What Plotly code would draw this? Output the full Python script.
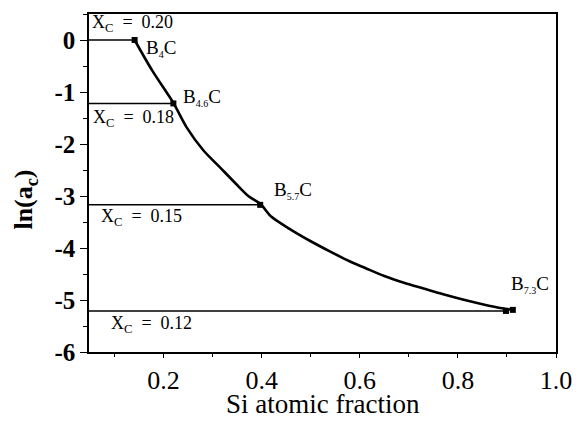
import plotly.graph_objects as go

# Carbon activity along the B-C phase boundary versus Si atomic fraction
si_frac = [0.141, 0.177, 0.220, 0.247, 0.281, 0.314, 0.347, 0.374, 0.397,
           0.420, 0.460, 0.500, 0.540, 0.580, 0.610, 0.650, 0.690, 0.730,
           0.770, 0.810, 0.850, 0.890, 0.912]
ln_ac = [0.00, -0.59, -1.21, -1.68, -2.12, -2.44, -2.76, -3.01, -3.15,
         -3.40, -3.65, -3.87, -4.07, -4.26, -4.38, -4.54, -4.67, -4.78,
         -4.89, -4.99, -5.08, -5.16, -5.19]

# Boron carbide compositions marked on the curve
phase_labels = ['B<sub><span style="font-size:10px">4</span></sub>C',
                'B<sub><span style="font-size:10px">4.6</span></sub>C',
                'B<sub><span style="font-size:10px">5.7</span></sub>C',
                'B<sub><span style="font-size:10px">7.3</span></sub>C']
phase_x = [0.141, 0.220, 0.397, 0.898]
phase_y = [0.00, -1.22, -3.17, -5.21]

# Carbon mole fraction for each iso-composition line
xc_values = ["0.20", "0.18", "0.15", "0.12"]

x_min, x_max = 0.048, 1.0
y_min, y_max = -6.0, 0.5

x_ticks = [0.2, 0.4, 0.6, 0.8, 1.0]
x_ticktext = ["0.2", "0.4", "0.6", "0.8", "1.0"]
y_ticks = [0, -1, -2, -3, -4, -5, -6]
y_ticktext = ["0", "-1", "-2", "-3", "-4", "-5", "-6"]

SERIF = "Times New Roman, Times, Liberation Serif, DejaVu Serif, serif"
NBSP = "\u00a0"

fig = go.Figure()

# horizontal iso-activity lines from the axis to each phase point
for px, py in zip(phase_x, phase_y):
    fig.add_trace(go.Scatter(
        x=[x_min, px], y=[py, py], mode="lines",
        line=dict(color="black", width=1.5), showlegend=False,
        hoverinfo="skip"))

# activity curve
fig.add_trace(go.Scatter(
    x=si_frac, y=ln_ac, mode="lines",
    line=dict(color="black", width=2.6, shape="spline", smoothing=0.8),
    showlegend=False))

# phase points
fig.add_trace(go.Scatter(
    x=phase_x + [si_frac[-1]], y=phase_y + [ln_ac[-1]], mode="markers",
    marker=dict(symbol="square", size=6, color="black"),
    showlegend=False))

# phase labels
label_pos = [(0.160, -0.16), (0.236, -1.11), (0.422, -2.89), (0.905, -4.70)]
for text, (lx, ly) in zip(phase_labels, label_pos):
    fig.add_annotation(x=lx, y=ly, text=text, showarrow=False,
                       xanchor="left", yanchor="middle",
                       font=dict(family=SERIF, size=19, color="black"))

# X_C labels
xc_pos = [(0.050, 0.31), (0.052, -1.50), (0.068, -3.42), (0.088, -5.47)]
for val, (lx, ly) in zip(xc_values, xc_pos):
    fig.add_annotation(x=lx, y=ly,
                       text=f"X<sub>C</sub>{NBSP*2}={NBSP*2}{val}",
                       showarrow=False, xanchor="left", yanchor="middle",
                       font=dict(family=SERIF, size=18, color="black"))

# axis titles
fig.add_annotation(xref="paper", yref="paper", x=0.5, y=0, yshift=-52,
                   text="Si atomic fraction", showarrow=False,
                   xanchor="center", yanchor="middle",
                   font=dict(family=SERIF, size=27, color="black"))
fig.add_annotation(xref="paper", yref="paper", x=0, y=0.451, xshift=-64,
                   text="ln(a<sub>c</sub>)", showarrow=False, textangle=-90,
                   xanchor="center", yanchor="middle",
                   font=dict(family=SERIF, size=26, color="black",
                             weight="bold"))

axis_common = dict(showline=True, linecolor="black", linewidth=1.5,
                   mirror=True, showgrid=False, zeroline=False,
                   ticks="outside", tickcolor="black", tickwidth=1.2)

fig.update_xaxes(range=[x_min, x_max], tickvals=x_ticks, ticktext=x_ticktext,
                 ticklen=4,
                 minor=dict(dtick=0.1, tick0=0, ticks="outside", ticklen=3,
                            tickcolor="black", tickwidth=1.2),
                 tickfont=dict(family=SERIF, size=26, color="black"),
                 **axis_common)
fig.update_yaxes(range=[y_min, y_max], tickvals=y_ticks, ticktext=y_ticktext,
                 ticklen=7,
                 minor=dict(dtick=0.5, tick0=0, ticks="outside", ticklen=4,
                            tickcolor="black", tickwidth=1.2),
                 tickfont=dict(family=SERIF, size=25, color="black",
                               weight="bold"),
                 **axis_common)

fig.update_layout(width=584, height=423,
                  margin=dict(l=89, r=20, t=13, b=71),
                  plot_bgcolor="white", paper_bgcolor="white",
                  font=dict(family=SERIF, color="black"))

fig.write_html("out.html")
